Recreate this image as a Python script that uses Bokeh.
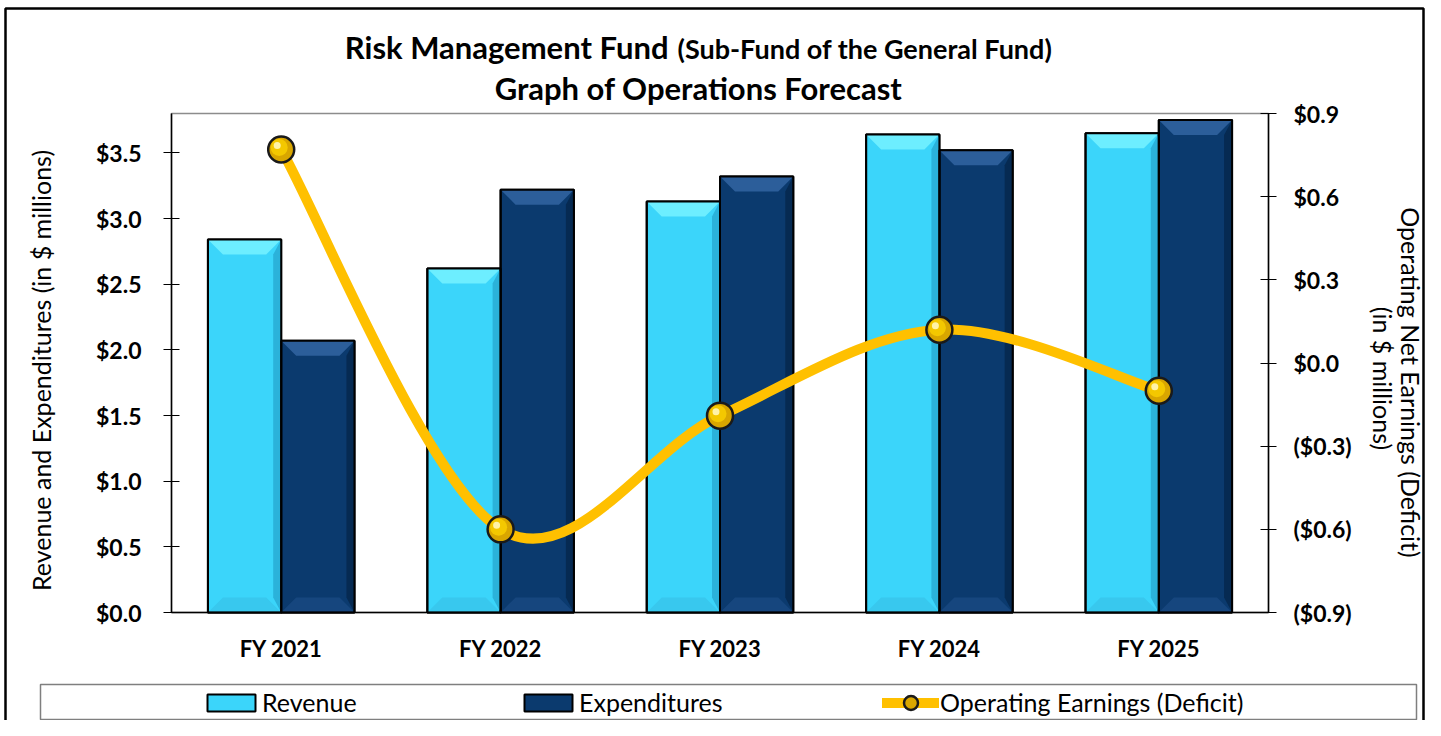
import math
from bokeh.plotting import figure
from bokeh.models import (Range1d, LinearAxis, FixedTicker, Label, Legend,
                          LegendItem, BoxAnnotation, ColumnDataSource)
from bokeh.embed import file_html
from bokeh.resources import INLINE

# ---------------- data ----------------
categories = ["FY 2021", "FY 2022", "FY 2023", "FY 2024", "FY 2025"]
revenue = [2.84, 2.62, 3.13, 3.64, 3.65]
expenditures = [2.07, 3.22, 3.32, 3.52, 3.75]
operating = [0.77, -0.60, -0.19, 0.12, -0.10]
left_ticks = [0.0, 0.5, 1.0, 1.5, 2.0, 2.5, 3.0, 3.5]
left_labels = ["$0.0", "$0.5", "$1.0", "$1.5", "$2.0", "$2.5", "$3.0", "$3.5"]
right_ticks = [-0.9, -0.6, -0.3, 0.0, 0.3, 0.6, 0.9]
right_labels = ["($0.9)", "($0.6)", "($0.3)", "$0.0", "$0.3", "$0.6", "$0.9"]

# ---------------- layout (canvas px) ----------------
W, H = 1425, 720
AREA_L, AREA_R, AREA_T, AREA_B = 171, 1268, 113, 612
NCAT = len(categories)
YMAX = 3.8
OE_MIN, OE_MAX = -0.9, 0.9
FONT = "Lato"

PX_X = (AREA_R - AREA_L) / NCAT
PX_Y = (AREA_B - AREA_T) / YMAX
PX_OE = (AREA_B - AREA_T) / (OE_MAX - OE_MIN)


def fx(px):
    return px


def fy(py):
    return H - py


p = figure(width=W, height=H, min_border=0,
           x_range=Range1d(-AREA_L / PX_X, NCAT + (W - AREA_R) / PX_X),
           y_range=Range1d(-(H - AREA_B) / PX_Y, YMAX + AREA_T / PX_Y),
           x_axis_location=None, y_axis_location=None,
           output_backend="svg", toolbar_location=None, title=None,
           background_fill_color="white", border_fill_color="white")
p.extra_y_ranges = {"oe": Range1d(OE_MIN - (H - AREA_B) / PX_OE,
                                  OE_MAX + AREA_T / PX_OE)}
p.xgrid.visible = False
p.ygrid.visible = False
p.outline_line_color = None

# plot-area frame (gray)
p.add_layout(BoxAnnotation(left=0, right=NCAT, bottom=0, top=YMAX, level="underlay",
                           fill_alpha=0, line_color="#8c8c8c", line_alpha=1.0,
                           line_width=1.5))

# ---------------- axes ----------------
xc = [i + 0.5 for i in range(NCAT)]
xa = LinearAxis(fixed_location=0, bounds=(0, NCAT), ticker=FixedTicker(ticks=xc))
xa.major_label_overrides = {t: c for t, c in zip(xc, categories)}
xa.major_tick_in = 0
xa.major_tick_out = 0
xa.minor_tick_line_color = None
xa.axis_line_color = "black"
xa.axis_line_width = 1.5
xa.major_label_standoff = 22
xa.major_label_text_font = FONT
xa.major_label_text_font_style = "bold"
xa.major_label_text_font_size = "22px"
xa.major_label_text_color = "black"
p.add_layout(xa, "below")

ya = LinearAxis(fixed_location=0, bounds=(0, YMAX), ticker=FixedTicker(ticks=left_ticks))
ya.major_label_overrides = {t: s for t, s in zip(left_ticks, left_labels)}
ya.major_tick_in = 8
ya.major_tick_out = 8
ya.minor_tick_line_color = None
ya.axis_line_color = "black"
ya.axis_line_width = 1.5
ya.major_tick_line_width = 1.2
ya.major_tick_line_color = "black"
ya.major_label_standoff = 22
ya.major_label_text_font = FONT
ya.major_label_text_font_style = "bold"
ya.major_label_text_font_size = "23px"
ya.major_label_text_color = "black"
p.add_layout(ya, "left")

ra = LinearAxis(fixed_location=NCAT, y_range_name="oe", bounds=(OE_MIN, OE_MAX),
                ticker=FixedTicker(ticks=right_ticks))
ra.major_label_overrides = {t: s for t, s in zip(right_ticks, right_labels)}
ra.major_tick_in = 8
ra.major_tick_out = 8
ra.minor_tick_line_color = None
ra.axis_line_color = "black"
ra.axis_line_width = 1.5
ra.major_tick_line_width = 1.2
ra.major_tick_line_color = "black"
ra.major_label_standoff = 17
ra.major_label_text_font = FONT
ra.major_label_text_font_style = "bold"
ra.major_label_text_font_size = "23px"
ra.major_label_text_color = "black"
p.add_layout(ra, "right")

# ---------------- bars ----------------
BW = 0.334
x_rev = [c - BW / 2 for c in xc]
x_exp = [c + BW / 2 for c in xc]

rev_r = p.vbar(x=x_rev, top=revenue, width=BW, fill_color="#3BD5FA",
               line_color="black", line_width=2)
exp_r = p.vbar(x=x_exp, top=expenditures, width=BW, fill_color="#0B3A6E",
               line_color="black", line_width=2)

DX = 15 / PX_X
DY = 15 / PX_Y
SX = 8 / PX_X


def bevels(xs, tops):
    top_b, bot_b, right_b = ([], []), ([], []), ([], [])
    for x, t in zip(xs, tops):
        l, r = x - BW / 2, x + BW / 2
        top_b[0].append([l, r, r - DX, l + DX])
        top_b[1].append([t, t, t - DY, t - DY])
        bot_b[0].append([l, r, r - DX, l + DX])
        bot_b[1].append([0, 0, DY, DY])
        right_b[0].append([r, r, r - SX, r - SX])
        right_b[1].append([t, 0, DY, t - DY])
    return top_b, bot_b, right_b


for xs, tops, ctop, cbot, cright in [
        (x_rev, revenue, "#6DEEFF", "#38C8EE", "#2BB2DA"),
        (x_exp, expenditures, "#2C5E9A", "#16467E", "#062A52")]:
    tb, bb, rb = bevels(xs, tops)
    p.patches(xs=bb[0], ys=bb[1], fill_color=cbot, line_color=None)
    p.patches(xs=rb[0], ys=rb[1], fill_color=cright, line_color=None)
    p.patches(xs=tb[0], ys=tb[1], fill_color=ctop, line_color=None)

p.vbar(x=x_rev, top=revenue, width=BW, fill_color=None, line_color="black", line_width=2)
p.vbar(x=x_exp, top=expenditures, width=BW, fill_color=None, line_color="black", line_width=2)

# ---------------- smoothed operating earnings line ----------------
n = len(operating)
pts = list(zip(xc, operating))
seg = dict(x0=[], y0=[], x1=[], y1=[], cx0=[], cy0=[], cx1=[], cy1=[])
for i in range(n - 1):
    p0 = pts[max(i - 1, 0)]
    p1 = pts[i]
    p2 = pts[i + 1]
    p3 = pts[min(i + 2, n - 1)]
    seg["x0"].append(p1[0]); seg["y0"].append(p1[1])
    seg["x1"].append(p2[0]); seg["y1"].append(p2[1])
    seg["cx0"].append(p1[0] + (p2[0] - p0[0]) / 6)
    seg["cy0"].append(p1[1] + (p2[1] - p0[1]) / 6)
    seg["cx1"].append(p2[0] - (p3[0] - p1[0]) / 6)
    seg["cy1"].append(p2[1] - (p3[1] - p1[1]) / 6)

bez = p.bezier(source=ColumnDataSource(seg), x0="x0", y0="y0", x1="x1", y1="y1",
               cx0="cx0", cy0="cy0", cx1="cx1", cy1="cy1", y_range_name="oe",
               line_color="#FFC000", line_width=10, line_cap="round")

dot = p.scatter(xc, operating, y_range_name="oe", marker="circle", size=26,
                fill_color="#D9A600", line_color="#1a1a1a", line_width=2.5)
p.scatter([x - 2 / PX_X for x in xc], [v + 2 / PX_OE for v in operating],
          y_range_name="oe", marker="circle", size=17,
          fill_color="#F4C800", line_color=None)
p.scatter([x - 4 / PX_X for x in xc], [v + 4 / PX_OE for v in operating],
          y_range_name="oe", marker="circle", size=7,
          fill_color="#FFF3A8", line_color=None)


# ---------------- texts ----------------
def lab(x, y, text, size, bold=False, align="center", baseline="middle", angle=0.0):
    p.add_layout(Label(x=fx(x), y=fy(y), x_units="screen", y_units="screen",
                       text=text, text_font=FONT, text_font_size=size,
                       text_font_style="bold" if bold else "normal",
                       text_align=align, text_baseline=baseline, angle=angle,
                       text_color="black"))


lab(668, 46, "Risk Management Fund", "31px", True, "right")
lab(677, 48, "(Sub-Fund of the General Fund)", "27px", True, "left")
lab(698, 87, "Graph of Operations Forecast", "31px", True, "center")
lab(40, 370, "Revenue and Expenditures (in $ millions)", "25px", angle=math.pi / 2)
lab(1410, 382, "Operating Net Earnings (Deficit)", "25px", angle=-math.pi / 2)
lab(1382, 378, "(in $ millions)", "25px", angle=-math.pi / 2)

# ---------------- borders ----------------
p.add_layout(BoxAnnotation(left=fx(5), right=fx(1423), top=fy(8), bottom=fy(760),
                           left_units="screen", right_units="screen",
                           top_units="screen", bottom_units="screen",
                           fill_alpha=0, line_color="black", line_alpha=1.0,
                           line_width=2.5))
p.add_layout(BoxAnnotation(left=fx(40), right=fx(1416), top=fy(684), bottom=fy(719),
                           left_units="screen", right_units="screen",
                           top_units="screen", bottom_units="screen",
                           fill_alpha=0, line_color="#7f7f7f", line_alpha=1.0,
                           line_width=1.5))


# ---------------- legends ----------------
def leg(label, renderers, x, y, gw=60, gh=21):
    lg = Legend(items=[LegendItem(label=label, renderers=renderers)],
                location=(fx(x), fy(y)), orientation="horizontal",
                padding=0, margin=0, spacing=0, glyph_width=gw, glyph_height=gh,
                label_standoff=1, border_line_alpha=0, background_fill_alpha=0,
                label_text_font=FONT, label_text_font_size="25px",
                label_text_color="black")
    p.add_layout(lg)


leg("Revenue", [rev_r], 201, 717)
leg("Expenditures", [exp_r], 518, 717)
leg("Operating Earnings (Deficit)", [bez, dot], 882, 719.5, gw=57, gh=35)

open("out.html", "w").write(file_html(p, INLINE))
